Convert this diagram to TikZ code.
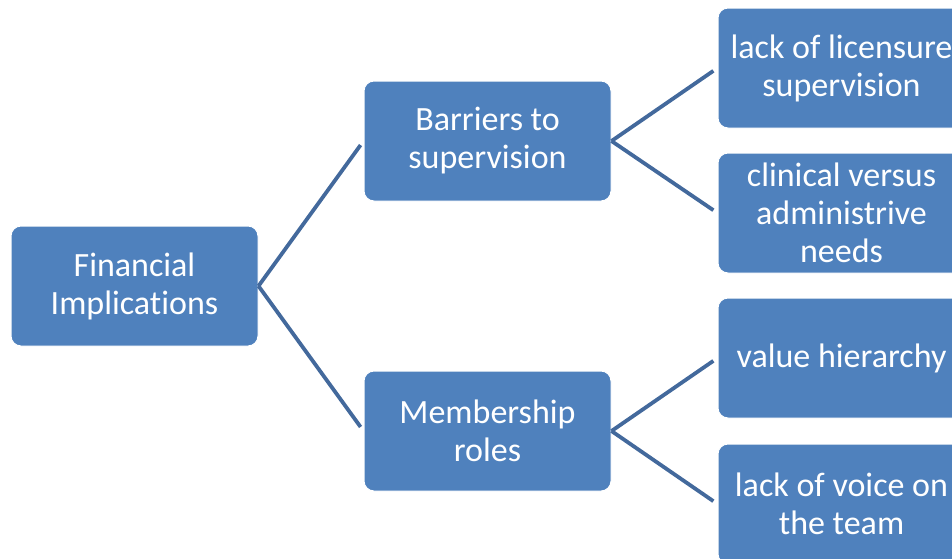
\documentclass[tikz,border=0pt]{standalone}
\usepackage{fontspec}
\setmainfont[RawFeature={-liga;-clig;-calt;-dlig}]{Carlito}
\usepackage{tikz}
\definecolor{boxblue}{HTML}{4F81BD}
\definecolor{linkblue}{HTML}{43699C}
\usetikzlibrary{positioning}

\tikzset{
	topic/.style={rectangle, rounded corners=10pt, draw=white, line width=1pt, fill=boxblue, text=white,
		minimum width=247pt, minimum height=120pt, align=center, inner sep=0pt,
		font=\fontsize{34}{38}\selectfont},
	link/.style={draw=linkblue, line width=3.8pt, shorten >=5pt}
}

\begin{document}
\begin{tikzpicture}[x=1pt, y=-1pt]
		\useasboundingbox (0,0) rectangle (952,558);
		\node[topic] (fin) at (134.5,286) {Financial\\Implicat\kern0pt ions};
		\node[topic, above right=24pt and 105pt of fin] (barr) {Barriers to\\supervision};
		\node[topic, below right=24pt and 105pt of fin] (memb) {Membership\\roles};
		\node[topic, right=106pt of barr, yshift=73pt] (lic) {lack of licensure\\supervision};
		\node[topic, right=106pt of barr, yshift=-72pt] (clin) {clinical versus\\administrive\\needs};
		\node[topic, right=106pt of memb, yshift=73pt] (val) {value hierarchy};
		\node[topic, right=106pt of memb, yshift=-73pt] (voice) {lack of voice on\\the team};
		
		\draw[link] (fin.east) -- (barr.west);
		\draw[link] (fin.east) -- (memb.west);
		
		\draw[link] (barr.east) -- (lic.west); % supervision
		\draw[link] (barr.east) -- (clin.west); % supervision
		\draw[link] (memb.east) -- (val.west); % roles
		\draw[link] (memb.east) -- (voice.west); % roles
	\end{tikzpicture}
\end{document}
